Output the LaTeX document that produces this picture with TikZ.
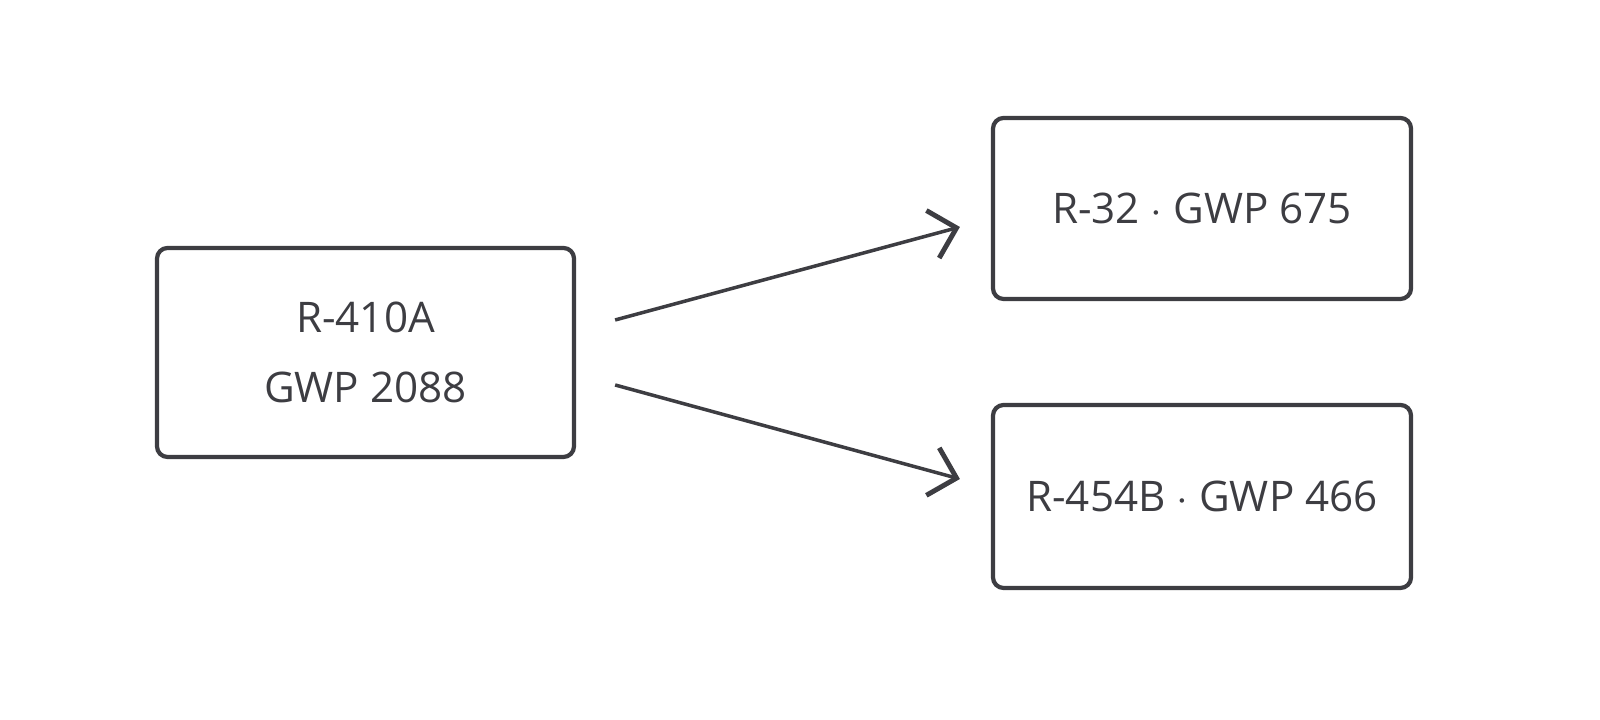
\documentclass[tikz,border=0pt]{standalone}
\usepackage{fontspec}
\setmainfont{Open Sans}
\usetikzlibrary{calc,arrows.meta}
\definecolor{ink}{HTML}{3D3D42}
\tikzset{
  box/.style={draw=ink, line width=1.2pt, rounded corners=3pt, text=ink,
    font=\large, align=center},
  link/.style={draw=ink, line width=1pt, -{Straight Barb[length=7pt,width=14pt,line width=1.4pt]}}
}
\begin{document}
\begin{tikzpicture}
    \useasboundingbox (0,0) rectangle (16,7.2);

    % Boxes
    \node[box, minimum width=4.17cm, minimum height=2.09cm] (old) at (3.655,3.675)
        {R-410A\\[6pt]GWP 2088};
    \node[box, minimum width=4.18cm, minimum height=1.81cm] (r32) at (12.02,5.115)
        {R-32 $\cdot$ GWP 675};
    \node[box, minimum width=4.18cm, minimum height=1.83cm] (r454) at (12.02,2.235)
        {R-454B $\cdot$ GWP 466};

    % Arrows
    \draw[link] ($(old.east)+(0.39,0.325)$) -- ($(r32.west)+(-0.31,-0.185)$);
    \draw[link] ($(old.east)+(0.39,-0.325)$) -- ($(r454.west)+(-0.31,0.175)$);
\end{tikzpicture}
\end{document}
